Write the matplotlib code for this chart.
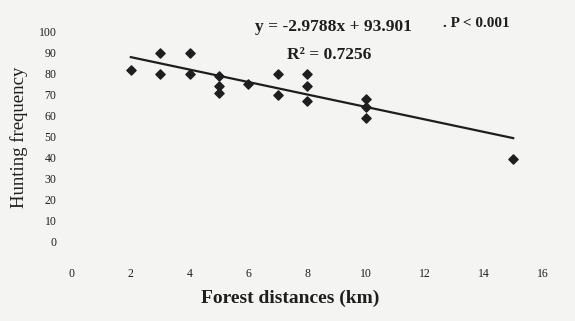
import matplotlib
matplotlib.use("Agg")
import matplotlib.pyplot as plt
import numpy as np

# Data
distance_km = [2, 3, 3, 4, 4, 5, 5, 5, 6, 7, 7, 8, 8, 8, 10, 10, 10, 15]
hunting_freq = [82, 90, 80, 90, 80, 79, 74, 71, 75, 80, 70, 80, 74, 67, 68, 64, 59, 39]

slope = -2.9788
intercept = 93.901
fit_range = [2, 15]

x_ticks = [0, 2, 4, 6, 8, 10, 12, 14, 16]
y_ticks = [0, 10, 20, 30, 40, 50, 60, 70, 80, 90, 100]

eq_text = "y = -2.9788x + 93.901"
r2_text = "R² = 0.7256"
p_text = ". P < 0.001"

plt.rcParams['font.family'] = ['Liberation Serif', 'DejaVu Serif']
ink = '#1e1e1e'
bg = '#f4f4f2'

fig = plt.figure(figsize=(5.75, 3.21), dpi=100, facecolor=bg)
ax = fig.add_axes([0.1078, 0.1963, 0.887, 0.7414])
ax.set_facecolor(bg)

ax.scatter(distance_km, hunting_freq, marker='D', s=22, color=ink, zorder=3)
xf = np.array(fit_range, dtype=float)
ax.plot(xf, slope * xf + intercept, color=ink, lw=1.6, zorder=2)

ax.set_xlim(-0.34, 17.0)
ax.set_ylim(-8.1, 105.7)
ax.set_xticks(x_ticks)
ax.set_yticks(y_ticks)
ax.set_xticklabels([str(t) for t in x_ticks])
ax.set_yticklabels([str(t) for t in y_ticks])
ax.tick_params(axis='both', length=0, labelsize=8.5, colors=ink)
ax.tick_params(axis='x', pad=7)
ax.tick_params(axis='y', pad=4)
for s in ax.spines.values():
    s.set_visible(False)

ax.text(6.22, 102.4, eq_text, fontsize=12.5, fontweight='bold', color=ink,
        ha='left', va='center', clip_on=False)
ax.text(7.31, 89.0, r2_text, fontsize=12.5, fontweight='bold', color=ink,
        ha='left', va='center')
ax.text(12.6, 103.8, p_text, fontsize=11, fontweight='bold', color=ink,
        ha='left', va='center', clip_on=False)

fig.text(0.504, 0.0717, "Forest distances (km)", fontsize=14, fontweight='bold',
         color=ink, ha='center', va='center')
fig.text(0.033, 0.573, "Hunting frequency", fontsize=13.5, color=ink,
         rotation=90, ha='center', va='center')

fig.savefig("out.png", dpi=100, facecolor=bg)
